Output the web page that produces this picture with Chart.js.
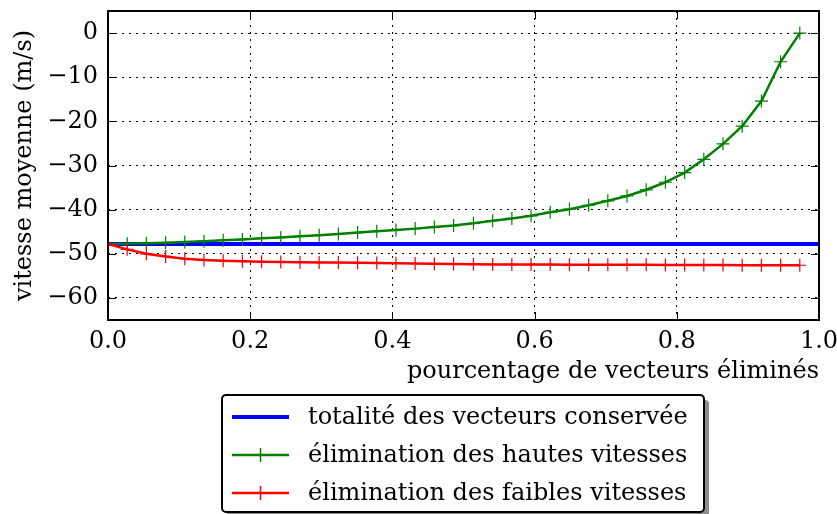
<!DOCTYPE html>
<html>
<head>
<meta charset="utf-8">
<script src="https://cdn.jsdelivr.net/npm/chart.js@4.4.1/dist/chart.umd.min.js"></script>
<style>
  html, body { margin: 0; padding: 0; background: #fff; }
</style>
</head>
<body>
<canvas id="myGrafic" width="837" height="514"></canvas>
<script>
// abscisses : pourcentage de vecteurs éliminés
let pourcentage = [0, 0.027, 0.054, 0.081, 0.108, 0.135, 0.162, 0.189, 0.216, 0.243,
  0.270, 0.297, 0.324, 0.351, 0.378, 0.405, 0.432, 0.459, 0.486, 0.514,
  0.541, 0.568, 0.595, 0.622, 0.649, 0.676, 0.703, 0.730, 0.757, 0.784,
  0.811, 0.838, 0.865, 0.892, 0.919, 0.946, 0.973];

// totalité des vecteurs conservée (ligne horizontale)
let totaliteX = [0, 1];
let totaliteY = [-47.8, -47.8];

// élimination des hautes vitesses
let hautes = [-47.8, -47.7, -47.6, -47.5, -47.35, -47.15, -46.95, -46.75, -46.5, -46.3,
  -46.05, -45.8, -45.5, -45.2, -44.9, -44.6, -44.3, -43.95, -43.6, -43.1,
  -42.5, -42.0, -41.4, -40.6, -39.9, -39.0, -38.0, -36.9, -35.5, -33.8,
  -31.6, -28.6, -25.1, -21.1, -15.4, -6.5, 0];

// élimination des faibles vitesses
let faibles = [-47.8, -49.0, -50.0, -50.6, -51.1, -51.4, -51.55, -51.7, -51.8, -51.85,
  -51.9, -51.95, -52.0, -52.05, -52.1, -52.15, -52.2, -52.25, -52.3, -52.35,
  -52.4, -52.4, -52.45, -52.45, -52.5, -52.5, -52.5, -52.5, -52.5, -52.55,
  -52.55, -52.55, -52.55, -52.6, -52.6, -52.6, -52.6];

let labels = ['totalité des vecteurs conservée', 'élimination des hautes vitesses', 'élimination des faibles vitesses'];
let couleurs = ['#0000ff', '#008000', '#ff0000'];

let xTicks = [0, 0.2, 0.4, 0.6, 0.8, 1.0];
let yTicks = [-60, -50, -40, -30, -20, -10, 0];

const serif = "'DejaVu Serif', 'Liberation Serif', serif";
Chart.defaults.font.family = serif;
Chart.defaults.font.size = 24;
Chart.defaults.color = '#000';

function pts(xs, ys) {
  return xs.map((x, i) => ({ x: x, y: ys[i] }));
}

// cadre, graduations vers l'intérieur et légende à ombre
const cadrePlugin = {
  id: 'cadre',
  afterDraw(chart) {
    const ctx = chart.ctx;
    const a = chart.chartArea;
    const xs = chart.scales.x, ys = chart.scales.y;
    ctx.save();
    ctx.strokeStyle = '#000';
    ctx.lineWidth = 1;
    ctx.beginPath();
    xTicks.forEach(v => {
      const px = Math.round(xs.getPixelForValue(v)) + 0.5;
      ctx.moveTo(px, a.top); ctx.lineTo(px, a.top + 8);
      ctx.moveTo(px, a.bottom); ctx.lineTo(px, a.bottom - 8);
    });
    yTicks.forEach(v => {
      const py = Math.round(ys.getPixelForValue(v)) + 0.5;
      ctx.moveTo(a.left, py); ctx.lineTo(a.left + 8, py);
      ctx.moveTo(a.right, py); ctx.lineTo(a.right - 8, py);
    });
    ctx.stroke();
    ctx.lineWidth = 2;
    ctx.strokeRect(a.left, a.top, a.right - a.left, a.bottom - a.top);

    // légende
    const bx = 222, by = 395, bw = 482, bh = 117;
    ctx.fillStyle = '#8c8c8c';
    ctx.beginPath();
    ctx.roundRect(bx + 5, by + 5, bw, bh, 4);
    ctx.fill();
    ctx.fillStyle = '#fff';
    ctx.strokeStyle = '#000';
    ctx.lineWidth = 2;
    ctx.beginPath();
    ctx.roundRect(bx, by, bw, bh, 4);
    ctx.fill();
    ctx.stroke();
    ctx.font = '24px ' + serif;
    ctx.textBaseline = 'middle';
    ctx.textAlign = 'left';
    chart.data.datasets.forEach((ds, i) => {
      const y = by + 22 + i * 38;
      ctx.strokeStyle = ds.borderColor;
      ctx.lineWidth = ds.borderWidth;
      ctx.beginPath();
      ctx.moveTo(bx + 10, y); ctx.lineTo(bx + 67, y);
      ctx.stroke();
      if (ds.pointRadius > 0) {
        ctx.lineWidth = 1.5;
        ctx.beginPath();
        ctx.moveTo(bx + 38.5, y - 7); ctx.lineTo(bx + 38.5, y + 7);
        ctx.stroke();
      }
      ctx.fillStyle = '#000';
      ctx.fillText(ds.label, bx + 86, y + 1);
    });
    ctx.restore();
  }
};

let myChart = {
  type: 'line',
  data: {
    datasets: [{
      label: labels[0],
      data: pts(totaliteX, totaliteY),
      borderColor: couleurs[0],
      borderWidth: 4,
      pointRadius: 0,
      order: 3
    }, {
      label: labels[1],
      data: pts(pourcentage, hautes),
      borderColor: couleurs[1],
      borderWidth: 2.5,
      pointStyle: 'cross',
      pointRadius: 6.5,
      pointBorderWidth: 1.2,
      pointBorderColor: couleurs[1],
      order: 2
    }, {
      label: labels[2],
      data: pts(pourcentage, faibles),
      borderColor: couleurs[2],
      borderWidth: 2.5,
      pointStyle: 'cross',
      pointRadius: 6.5,
      pointBorderWidth: 1.2,
      pointBorderColor: couleurs[2],
      order: 1
    }]
  },
  options: {
    responsive: false,
    animation: false,
    layout: { padding: { top: 11, right: 18, left: 0, bottom: 114 } },
    plugins: { legend: { display: false }, tooltip: { enabled: false } },
    elements: { line: { tension: 0 } },
    scales: {
      x: {
        type: 'linear', min: 0, max: 1,
        afterBuildTicks: s => { s.ticks = xTicks.map(v => ({ value: v })); },
        afterFit: s => { s.height = 80; s.paddingLeft = 0; s.paddingRight = 0; },
        ticks: { padding: 7, maxRotation: 0, callback: v => v.toFixed(1) },
        grid: { color: '#000', lineWidth: 1, drawTicks: false },
        border: { display: false, dash: [2, 5] },
        title: { display: true, text: 'pourcentage de vecteurs éliminés', align: 'end', padding: { top: 0, bottom: 14 } }
      },
      y: {
        type: 'linear', min: -65, max: 5,
        afterBuildTicks: s => { s.ticks = yTicks.map(v => ({ value: v })); },
        afterFit: s => { s.width = 108; s.paddingTop = 0; s.paddingBottom = 0; },
        ticks: { padding: 10, callback: v => String(v).replace('-', '\u2212') },
        grid: { color: '#000', lineWidth: 1, drawTicks: false },
        border: { display: false, dash: [2, 5] },
        title: { display: true, text: 'vitesse moyenne (m/s)', padding: { top: 10, bottom: 0 } }
      }
    }
  },
  plugins: [cadrePlugin]
};

var myGrafic = document.getElementById('myGrafic');
window.graf = new Chart(myGrafic, myChart);
</script>
</body>
</html>
